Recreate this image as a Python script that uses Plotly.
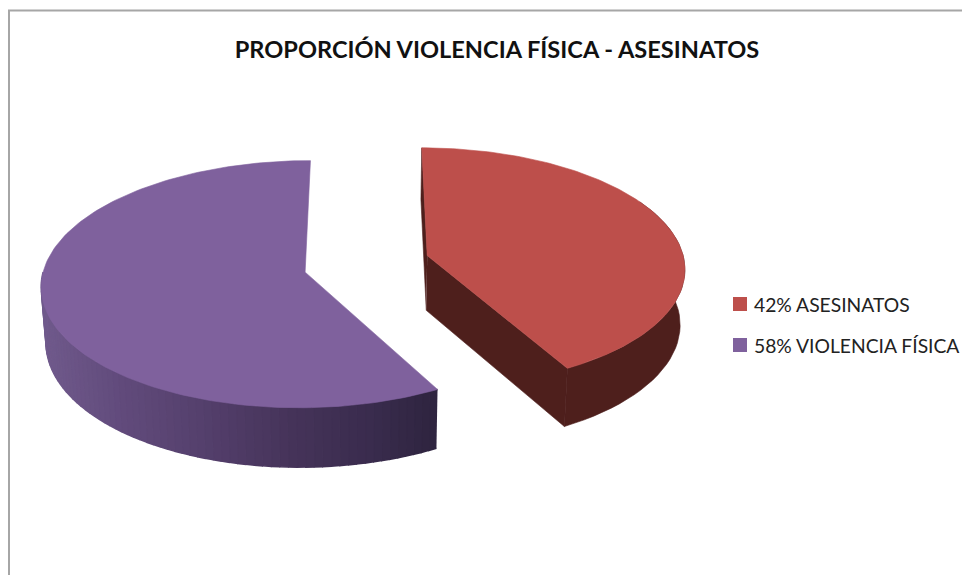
import numpy as np
import plotly.graph_objects as go

labels = ["42% ASESINATOS", "58% VIOLENCIA FÍSICA"]
shares = [42, 58]
top_colors = ["#bd4f4b", "#7f619d"]
wall_red = "#4e1f1c"
title_text = "PROPORCIÓN VIOLENCIA FÍSICA - ASESINATOS"

CX, CY, RX, RY, K, EXPL = 365.0, 265.0, 260.5, 121.0, 0.097, 0.236
PAGE = 8  # the page's own body margin, so axis units equal picture pixels
nudge_x = [0.012, 0.0]
nudge_y = [0.02, 0.0]
radius = [0.99, 1.0]


def project(X, Y):
    d = 1 + K * Y
    return CX + RX * X / d, CY - RY * Y / d


def lower(x, y):
    return CX + (x - CX) * 0.985, y + 55 + (y - 263) * 0.03


angle_edges = np.concatenate([[0.0], np.cumsum(shares) / sum(shares) * 2 * np.pi])
fig = go.Figure()


def poly(xs, ys, color, lw=0.6):
    fig.add_trace(go.Scatter(x=list(xs), y=list(ys), mode="lines", fill="toself",
                             fillcolor=color, line=dict(color=color, width=lw),
                             hoverinfo="skip", showlegend=False))


def wall_color(x):
    stops_x = [43, 120, 200, 290, 370, 435]
    stops = np.array([[0x70, 0x5a, 0x8c], [0x62, 0x4b, 0x7c], [0x55, 0x40, 0x6d],
                      [0x46, 0x34, 0x5a], [0x3a, 0x2c, 0x4e], [0x2f, 0x25, 0x40]])
    c = [np.interp(x, stops_x, stops[:, i]) for i in range(3)]
    return "rgb(%d,%d,%d)" % tuple(c)


for i, share in enumerate(shares):
    a0, a1 = angle_edges[i], angle_edges[i + 1]
    mid = (a0 + a1) / 2
    ox = EXPL * np.sin(mid) + nudge_x[i]
    oy = EXPL * np.cos(mid) + nudge_y[i]
    r = radius[i]
    if i == 0:
        t = np.linspace(a0, a1, 60)
    else:
        t = np.linspace(a0, np.radians(270), 70)  # front part only; the rest is hidden
    rx, ry = project(r * np.sin(t) + ox, r * np.cos(t) + oy)
    apx, apy = project(ox, oy)
    bx, by = lower(rx, ry)
    bax, bay = lower(apx, apy)
    if i == 0:
        # one solid dark body: outer wall + both cut faces
        poly([apx, rx[0], bx[0], bax], [apy, ry[0], by[0], bay], wall_red)
        poly([apx, rx[-1], bx[-1], bax], [apy, ry[-1], by[-1], bay], wall_red)
        vis = t > np.radians(60)
        poly(np.r_[rx[vis], bx[vis][::-1]], np.r_[ry[vis], by[vis][::-1]], wall_red)
    else:
        for j in range(len(t) - 1):
            col = wall_color((rx[j] + rx[j + 1]) / 2)
            poly([rx[j], rx[j + 1], bx[j + 1], bx[j]],
                 [ry[j], ry[j + 1], by[j + 1], by[j]], col, lw=1.6)
    tt = np.linspace(a0, a1, 160)
    fx, fy = project(r * np.sin(tt) + ox, r * np.cos(tt) + oy)
    poly(np.r_[apx, fx, apx], np.r_[apy, fy, apy], top_colors[i])

legend_y = [304, 345]
annotations = [dict(x=752, y=yy, xref="x", yref="y", text=name, showarrow=False,
                    xanchor="left", yanchor="middle",
                    font=dict(family="Lato", size=19.3, color="#222222"))
               for name, yy in zip(labels, legend_y)]
shapes = [dict(type="rect", xref="x", yref="y", x0=9, y0=10.5, x1=1000, y1=620,
               line=dict(color="#a6a6a6", width=2))]
shapes += [dict(type="rect", xref="x", yref="y", x0=733, x1=747, y0=yy - 7, y1=yy + 7,
                fillcolor=c, line=dict(width=0))
           for yy, c in zip(legend_y, top_colors)]

fig.update_layout(
    width=970, height=575, margin=dict(l=0, r=0, t=0, b=0), showlegend=False,
    paper_bgcolor="white", plot_bgcolor="white",
    xaxis=dict(range=[PAGE, 970 + PAGE], visible=False, fixedrange=True),
    yaxis=dict(range=[575 + PAGE, PAGE], visible=False, fixedrange=True),
    title=dict(text="<b>" + title_text + "</b>", x=(497 - PAGE) / 970, xanchor="center",
               y=1 - (50 - PAGE) / 575, yanchor="middle",
               font=dict(family="Lato", size=23.6, color="#111111")),
    annotations=annotations, shapes=shapes,
)
fig.write_html("out.html")
